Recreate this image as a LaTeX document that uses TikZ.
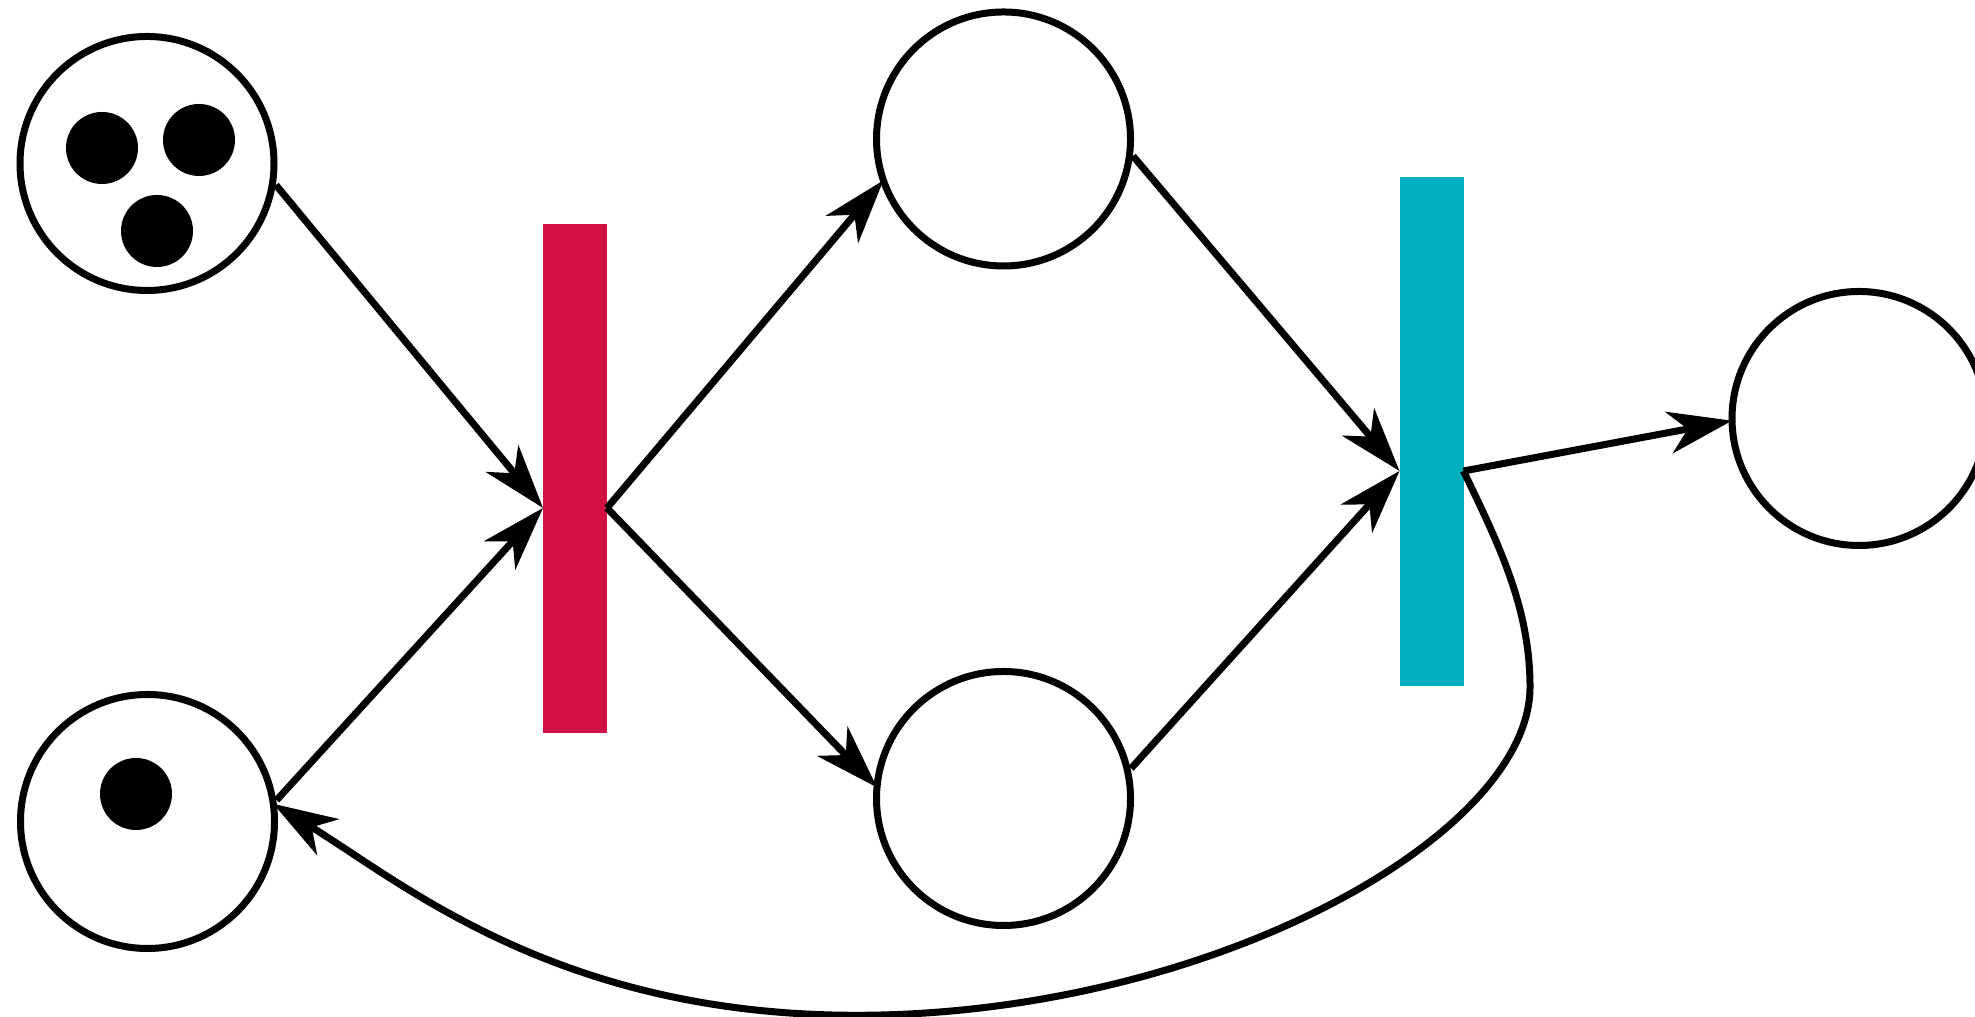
\documentclass[tikz,border=0pt]{standalone}
\usetikzlibrary{arrows.meta,calc}
\definecolor{tred}{RGB}{209,17,65}
\definecolor{tteal}{RGB}{0,175,190}
\tikzset{
  place/.style={circle,draw,line width=0.07cm,minimum size=2.54cm,inner sep=0pt,outer sep=0pt},
  trans/.style={rectangle,inner sep=0pt,outer sep=0pt,minimum width=0.64cm,minimum height=5.09cm},
  arc/.style={line width=0.07cm,-{Stealth[length=0.64cm,width=0.42cm,inset=0.19cm]}},
  parc/.style={arc,shorten <=0.05cm}
}
\begin{document}
\begin{tikzpicture}
  \useasboundingbox (0,0) rectangle (19.75,10.17);
  % places and transitions
  \node[place] (p1) at (1.47,8.535) {};
  \node[place] (p2) at (1.475,1.955) {};
  \node[place] (p3) at (10.035,8.78) {};
  \node[place] (p4) at (10.035,2.185) {};
  \node[place] (p5) at (18.59,5.985) {};
  \node[trans,fill=tred] (t1) at (5.75,5.385) {};
  \node[trans,fill=tteal] (t2) at (14.315,5.85) {};
  \coordinate (t1in) at ($(t1.west)+(0,-0.295)$);
  \coordinate (t1out) at ($(t1.east)+(0,-0.295)$);
  \coordinate (t2in) at ($(t2.west)+(0,-0.39)$);
  \coordinate (t2out) at ($(t2.east)+(0,-0.39)$);
  % tokens
  \foreach \x/\y in {-0.45/0.155,0.52/0.235,0.10/-0.675}
    \fill ($(p1)+(\x,\y)$) circle (0.36);
  \fill ($(p2)+(-0.115,0.275)$) circle (0.36);
  % arcs
  \draw[parc] (p1.352) -- (t1in);
  \draw[parc] (p2.8) -- (t1in);
  \draw[arc] (t1out) -- (p3.199);
  \draw[arc] (t1out) -- (p4.175);
  \draw[parc] (p3.354) -- (t2in);
  \draw[parc] (p4.12) -- (t2in);
  \draw[arc] (t2out) -- (p5.181);
  \draw[arc] (t2out) .. controls (14.98,4.74) and (15.30,4.10) .. (15.30,3.30)
    .. controls (15.30,1.80) and (12.065,0.017) .. (8.565,0.017)
    .. controls (5.565,0.017) and (4.014,1.352) .. (p2.8);
\end{tikzpicture}
\end{document}
